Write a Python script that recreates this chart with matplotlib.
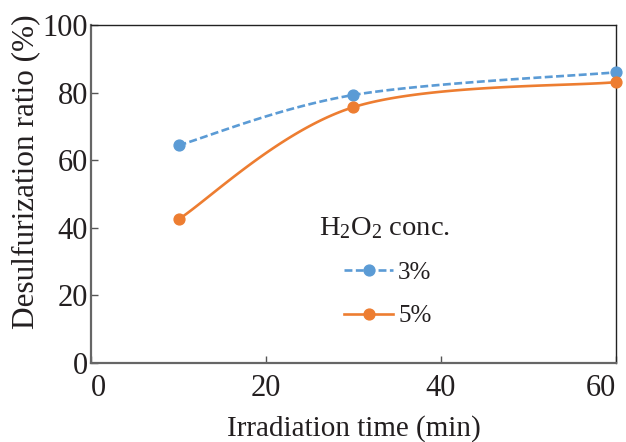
import matplotlib as mpl
mpl.use('Agg')
import matplotlib.pyplot as plt
import numpy as np

plt.rcParams['font.family'] = ['Liberation Serif', 'DejaVu Serif']
plt.rcParams['mathtext.fontset'] = 'stix'

# data
time_min = [10, 30, 60]
ratio_3pct = [64.4, 79.3, 86.0]
ratio_5pct = [42.5, 75.7, 83.1]
series_labels = ['3%', '5%']
xticks = [0, 20, 40, 60]
yticks = [0, 20, 40, 60, 80, 100]

BLUE = '#5B9BD5'
ORANGE = '#ED7D31'
TEXT = '#231f20'


def smooth(xs, ys, n=60):
    # excel-like smoothed line: cubic bezier segments, catmull-rom style handles
    p = np.column_stack([xs, ys]).astype(float)
    pts = []
    for i in range(len(p) - 1):
        p0 = p[max(i - 1, 0)]
        p1 = p[i]
        p2 = p[i + 1]
        p3 = p[min(i + 2, len(p) - 1)]
        c1 = p1 + (p2 - p0) / 6.
        c2 = p2 - (p3 - p1) / 6.
        t = np.linspace(0, 1, n)[:, None]
        seg = ((1 - t) ** 3 * p1 + 3 * (1 - t) ** 2 * t * c1
               + 3 * (1 - t) * t ** 2 * c2 + t ** 3 * p2)
        pts.append(seg if i == 0 else seg[1:])
    pts = np.vstack(pts)
    return pts[:, 0], pts[:, 1]


fig = plt.figure(figsize=(6.26, 4.42), dpi=100)
ax = fig.add_axes([91 / 626, 1 - 363 / 442, 525 / 626, 338 / 442])

dash = (0, (3.0, 1.3))
for ys, color, ls, lab in [(ratio_3pct, BLUE, dash, series_labels[0]),
                           (ratio_5pct, ORANGE, '-', series_labels[1])]:
    sx, sy = smooth(time_min, ys)
    ax.plot(sx, sy, color=color, lw=1.9, ls=ls, dash_capstyle='butt',
            clip_on=False, zorder=3)
    ax.plot(time_min, ys, 'o', color=color, ms=7.8, clip_on=False, zorder=4)
    # proxy for legend
    ax.plot([], [], color=color, lw=1.9, ls=ls, marker='o', ms=7.8,
            dash_capstyle='butt', label=lab)

ax.set_xlim(0, 60)
ax.set_ylim(0, 100)
ax.set_xticks(xticks)
ax.set_yticks(yticks)
ax.set_xticklabels([str(v) for v in xticks])
ax.tick_params(direction='in', length=5, width=1, color='#555555',
               labelsize=22, labelcolor=TEXT)
ax.tick_params(axis='x', pad=8)
ax.tick_params(axis='y', pad=2)
labs = ax.get_xticklabels()
labs[0].set_ha('left')
labs[-1].set_ha('right')

for side in ['left', 'bottom']:
    ax.spines[side].set_color('#666666')
    ax.spines[side].set_linewidth(1.6)
for side in ['top', 'right']:
    ax.spines[side].set_color('#222222')
    ax.spines[side].set_linewidth(1.0)

# legend title drawn separately so the entries can sit indented below it
ax.text((319 - 91) / 525, (363 - 228) / 338,
        'H$\\mathregular{_2}$O$\\mathregular{_2}$ conc.',
        transform=ax.transAxes, ha='left', va='center', fontsize=20.5,
        color=TEXT)
lgd = ax.legend(loc='upper left', bbox_to_anchor=(0.4586, 0.337),
                fontsize=18, frameon=False,
                handlelength=1.95, handletextpad=0.2, labelspacing=0.83,
                borderpad=0.0)
for t in lgd.get_texts():
    t.set_color(TEXT)

fig.text(26 / 626, 1 - 172 / 442, 'Desulfurization ratio (%)', rotation=90,
         ha='center', va='center', fontsize=22.5, color=TEXT)
fig.text(354 / 626, 1 - 429 / 442, 'Irradiation time (min)',
         ha='center', va='center', fontsize=21, color=TEXT)

fig.savefig('out.png', dpi=100)
